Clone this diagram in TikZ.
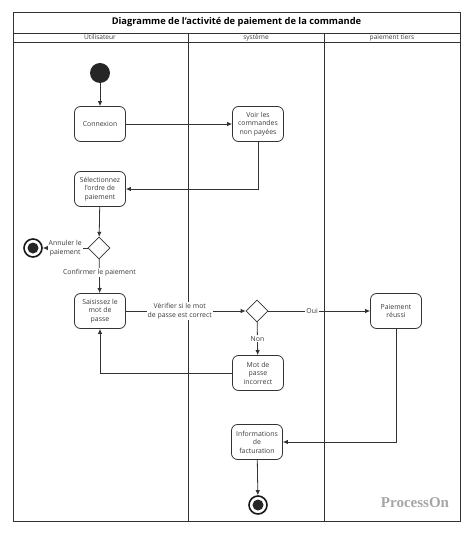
\documentclass[tikz,border=0pt]{standalone}
\usepackage{fontspec}
\setmainfont{Open Sans}
\newfontfamily\markfont{Liberation Serif}
\usetikzlibrary{shapes.geometric,arrows.meta}
\definecolor{linegray}{HTML}{333333}
\definecolor{textgray}{HTML}{3C3C3C}
\tikzset{
  >={Latex[length=5pt,width=4.5pt]},
  every edge/.style={draw, linegray, line width=0.8pt},
  activity/.style={draw=linegray, line width=0.8pt, rounded corners=6pt, minimum width=51pt, minimum height=35pt, inner sep=1pt, align=center, text=textgray, font=\fontsize{6.9}{8.5}\selectfont},
  decision/.style={diamond, draw=linegray, line width=0.8pt, minimum size=22pt, inner sep=0pt},
  startstate/.style={circle, fill=black!85, minimum size=20pt, inner sep=0pt},
  endstate/.style={circle, draw=black!90, line width=1.6pt, minimum size=18pt, inner sep=0pt,
    path picture={\fill[black!85] (path picture bounding box.center) circle (5.5pt);}},
  lbl/.style={fill=white, inner sep=1pt, align=center, text=textgray, font=\fontsize{6.9}{8.5}\selectfont},
  lane/.style={anchor=base, inner sep=0pt, text=textgray, font=\fontsize{6.6}{7}\selectfont}
}

\begin{document}
\begin{tikzpicture}[x=1pt,y=-1pt]
    \path[use as bounding box] (0,0) rectangle (474,534);

    % frame and lanes
    \draw[linegray, line width=0.9pt] (13,12) rectangle (460,521);
    \draw[linegray, line width=0.9pt] (13,33) -- (460,33);
    \draw[linegray, line width=0.9pt] (13,42) -- (460,42);
    \draw[linegray, line width=0.9pt] (188,33) -- (188,521);
    \draw[linegray, line width=0.9pt] (324,33) -- (324,521);
    \node[font=\fontsize{9.3}{10}\selectfont\bfseries] at (236.5,22.5) (title) {Diagramme de l'activité de paiement de la commande};
    \node[lane] at (100,40) (user) {Utilisateur};
    \node[lane] at (256,40) (sys) {système};
    \node[lane] at (392,40) (tiers) {paiement tiers};

    \node[startstate] at (100,73) (start) {};
    \node[activity] at (100,124) (connexion) {Connexion};
    \node[activity] at (258,124) (voir) {Voir les\\commandes\\non payées};
    \node[activity] at (100,189) (ordre) {Sélectionnez\\l'ordre de\\paiement};
    \node[decision] at (99,248) (choix) {};
    \node[endstate] at (33,248) (annule) {};
    \node[activity] at (100,311) (saisie) {Saisissez le\\mot de\\passe};
    \node[decision] at (257,311) (verif) {};
    \node[activity] at (396,311) (reussi) {Paiement\\réussi};
    \node[activity] at (258,373) (incorrect) {Mot de\\passe\\incorrect};
    \node[activity] at (257,442) (infos) {Informations\\de\\facturation};
    \node[endstate] at (258,505) (fin) {};

    \draw (start) edge[->] (connexion);
    \draw (connexion) edge[->] (voir);
    \draw[->, linegray, line width=0.8pt] (voir) |- (ordre);
    \draw (ordre) edge[->] (choix);
    \draw (choix) edge[->] node[lbl] {Annuler le\\paiement} (annule);
    \draw (choix) edge[->] node[lbl, pos=0.4] {Confirmer le paiement} (saisie);
    \draw (saisie) edge[->] node[lbl, pos=0.45] {Vérifier si le mot\\de passe est correct} (verif);
    \draw (verif) edge[->] node[lbl, pos=0.43] {Oui} (reussi);
    \draw (verif) edge[->] node[lbl] {Non} (incorrect);
    \draw[->, linegray, line width=0.8pt] (incorrect) -| (saisie);
    \draw[->, linegray, line width=0.8pt] (reussi) |- (infos);
    \draw (infos) edge[->] (fin);

    \node[text=black!35, font=\markfont\fontsize{15}{17}\selectfont\bfseries] at (415,503) (mark) {ProcessOn};
\end{tikzpicture}
\end{document}
